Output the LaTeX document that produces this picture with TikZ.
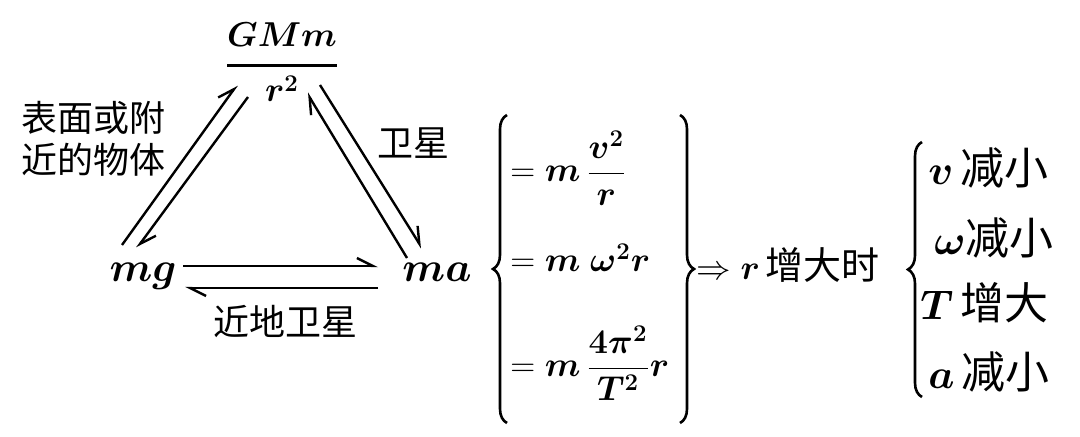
\documentclass[tikz,border=0pt]{standalone}
\usepackage{amsmath}
\usepackage{bm}
\usepackage{fontspec}
\newfontfamily\cjk{Noto Sans CJK SC}
\usetikzlibrary{arrows.meta,decorations.pathreplacing}

\tikzset{
	harp/.style={line width=1.2pt,-{Straight Barb[left,length=8pt,width=8pt]}},
	cbrace/.style={decorate,decoration={brace,amplitude=7pt},line width=1.3pt},
	zh/.style={font=\cjk\fontsize{18}{21}\selectfont,align=left,inner sep=0pt},
	big/.style={font=\fontsize{20}{24}\selectfont,inner sep=0pt},
	eq/.style={font=\fontsize{18}{22}\selectfont,anchor=base west,inner sep=0pt},
	item/.style={font=\fontsize{20}{24}\selectfont,anchor=west,inner sep=0pt},
}

\begin{document}
\begin{tikzpicture}[x=0.5pt,y=-0.5pt]
\useasboundingbox (0,0) rectangle (1080,437);

% triangle
\node[font=\fontsize{17}{20}\selectfont,inner sep=0pt] (gmm) at (282,62)
	{$\genfrac{}{}{1.4pt}{0}{\bm{GMm}\rule[-5pt]{0pt}{0pt}}{\rule{0pt}{13pt}\bm{r^2}}$};
\node[big,anchor=base] (mg) at (143,282) {$\bm{mg}$};
\node[big,anchor=base] (ma) at (437,282) {$\bm{ma}$};

\node[zh] (surf) at (93,139) {表面或附\\近的物体};
\node[zh] (sat) at (413,143) {卫星};
\node[zh] (near) at (285,322) {近地卫星};

\draw[harp] ([shift={(-21,-37)}]mg.base) -- ([shift={(-45,23)}]gmm.center);
\draw[harp] ([shift={(-34,35)}]gmm.center) -- ([shift={(-6,-34)}]mg.base);

\draw[harp] ([shift={(-30,-24)}]ma.base) -- ([shift={(25,31)}]gmm.center);
\draw[harp] ([shift={(38,23)}]gmm.center) -- ([shift={(-15,-34)}]ma.base);

\draw[harp] ([shift={(40,-16)}]mg.base) -- ([shift={(-59,-16)}]ma.base);
\draw[harp] ([shift={(-59,6)}]ma.base) -- ([shift={(42,6)}]mg.base);

% equations
\draw[cbrace] (507,423) -- (507,115);
\node[eq] (eqv) at (510,182) {$=\bm m\,\dfrac{\bm{v^2}}{\bm r}$};
\node[eq] (eqw) at (510,272) {$=\bm m\;\bm{\omega^2 r}$};
\node[eq] (eqT) at (510,377) {$=\bm m\,\dfrac{\bm{4\pi^2}}{\bm{T^2}}\bm r$};
\draw[cbrace] (680,115) -- (680,423);

\node[anchor=west,inner sep=0pt,font=\fontsize{18}{22}\selectfont] (grow) at (696,265)
	{$\Rightarrow\bm r$\,{\cjk\fontsize{19}{22}\selectfont 增大时}};

% results
\draw[cbrace] (922,397) -- (922,142);
\node[item] (rv) at (928,168) {$\bm v$\,{\cjk\fontsize{22}{26}\selectfont 减小}};
\node[item] (rw) at (934,238) {$\bm\omega${\cjk\fontsize{22}{26}\selectfont 减小}};
\node[item] (rT) at (920,303) {$\bm T$\,{\cjk\fontsize{22}{26}\selectfont 增大}};
\node[item] (ra) at (928,372) {$\bm a$\,{\cjk\fontsize{22}{26}\selectfont 减小}};

\end{tikzpicture}
\end{document}
